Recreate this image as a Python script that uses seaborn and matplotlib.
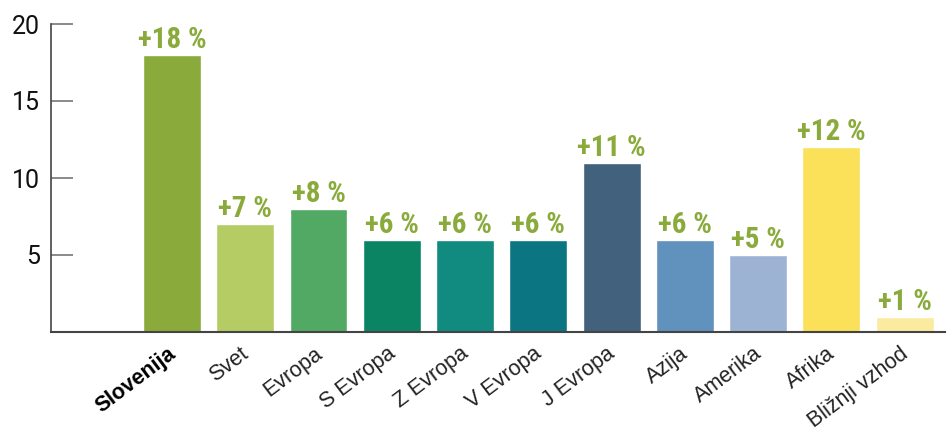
import matplotlib
matplotlib.use("Agg")
import matplotlib.pyplot as plt
import matplotlib.transforms as mtransforms
import seaborn as sns
import pandas as pd

categories = ["Slovenija", "Svet", "Evropa", "S Evropa", "Z Evropa", "V Evropa",
              "J Evropa", "Azija", "Amerika", "Afrika", "Bližnji vzhod"]
values = [18, 7, 8, 6, 6, 6, 11, 6, 5, 12, 1]
value_labels = ["+18 %", "+7 %", "+8 %", "+6 %", "+6 %", "+6 %",
                "+11 %", "+6 %", "+5 %", "+12 %", "+1 %"]
colors = ["#8aaa3c", "#b4cc63", "#52a963", "#0b8464", "#118a80", "#0b7582",
          "#41617c", "#6191bd", "#9db3d3", "#fbe05a", "#fbeba0"]
yticks = [0, 5, 10, 15, 20]
ytick_labels = ["", "5", "10", "15", "20"]

sns.set_style("white")
plt.rcParams["font.family"] = ["Roboto", "DejaVu Sans"]

df = pd.DataFrame({"cat": categories, "val": values})

fig = plt.figure(figsize=(9.5, 4.34), dpi=100)
ax = fig.add_axes([51 / 950, 1 - 332 / 434, (945 - 51) / 950, (332 - 24) / 434])

sns.barplot(data=df, x="cat", y="val", hue="cat", palette=colors, legend=False,
            width=0.79, saturation=1, ax=ax)

ax.set_xlim(-1.65, 10.55)
ax.set_ylim(0, 20)
ax.set_xlabel("")
ax.set_ylabel("")

for i, (v, lab) in enumerate(zip(values, value_labels)):
    ax.annotate(lab, (i, v), xytext=(0, 5), textcoords="offset points",
                ha="center", va="baseline", color="#8aab3c", fontsize=21,
                fontweight="bold", fontstretch="condensed",
                fontfamily=["Roboto Condensed", "Open Sans Condensed", "Roboto", "DejaVu Sans"])

ax.set_yticks(yticks)
ax.set_yticklabels(ytick_labels, fontsize=18, color="#111111")
ax.tick_params(axis="y", direction="in", length=16, width=1.2, color="#777777", pad=8, left=True)
ax.tick_params(axis="x", length=0, pad=8)

ax.set_xticks(range(len(categories)))
ax.set_xticklabels(categories, rotation=37, ha="right", rotation_mode="anchor",
                   fontsize=15.5, color="#222222", fontfamily="Liberation Sans")
offset = mtransforms.ScaledTranslation(-5 / 100, 0, fig.dpi_scale_trans)
for t in ax.get_xticklabels():
    t.set_transform(t.get_transform() + offset)
ax.get_xticklabels()[0].set_fontweight("bold")
ax.get_xticklabels()[0].set_color("#000000")

for s in ["top", "right"]:
    ax.spines[s].set_visible(False)
ax.spines["left"].set_color("#444444")
ax.spines["left"].set_linewidth(1.2)
ax.spines["bottom"].set_color("#444444")
ax.spines["bottom"].set_linewidth(1.5)

fig.savefig("out.png", dpi=100)
